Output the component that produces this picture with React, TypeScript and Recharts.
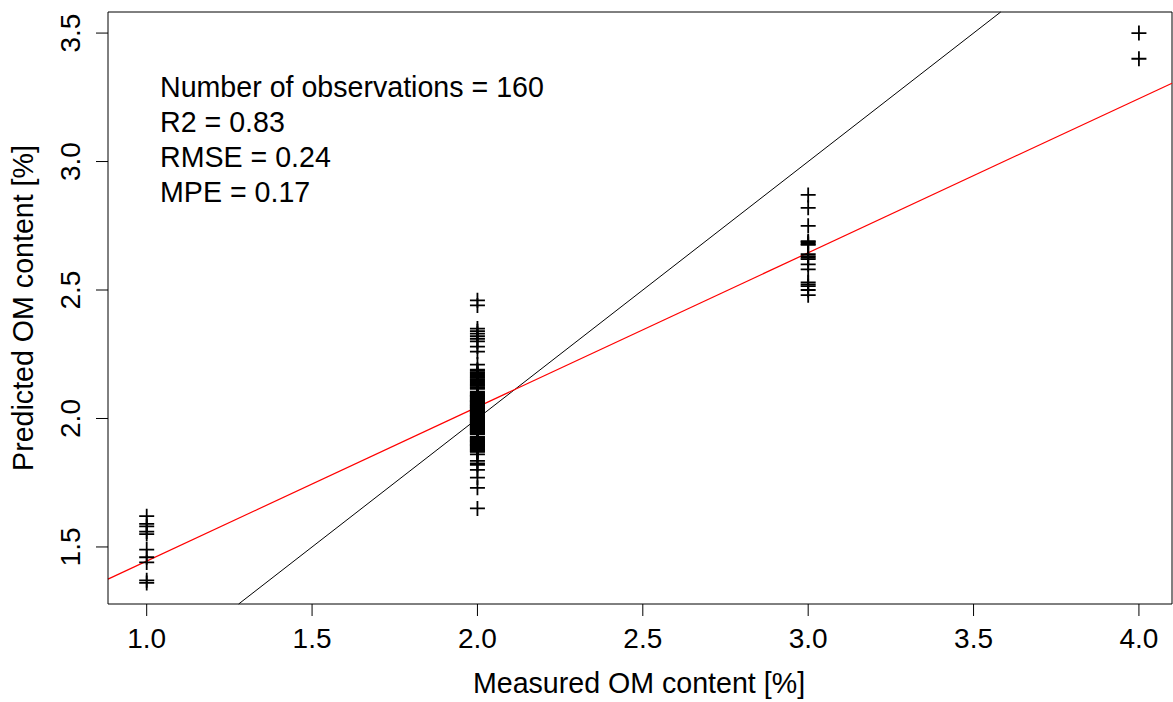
import React from 'react'
import {
  ScatterChart,
  Scatter,
  XAxis,
  YAxis,
  ReferenceLine,
  Customized,
} from 'recharts'

// measured OM classes on the x axis
const measuredLevels = [1, 2, 3, 4]

// predicted OM content for each measured class
const predictedAt1 = [1.62, 1.59, 1.58, 1.56, 1.55, 1.49, 1.46, 1.44, 1.37, 1.36]

const predictedAt2 = [
  2.46, 2.44,
  2.35, 2.34, 2.33, 2.32, 2.31, 2.30,
  2.28, 2.26, 2.21,
  2.19, 2.186, 2.18, 2.176, 2.171, 2.167, 2.162, 2.158, 2.153, 2.149, 2.144, 2.14, 2.135, 2.131, 2.127, 2.122, 2.118, 2.115,
  2.104, 2.101, 2.097, 2.094, 2.091, 2.088, 2.085, 2.082, 2.079, 2.076, 2.073, 2.07, 2.068,
  2.065, 2.062, 2.06, 2.057, 2.054, 2.051, 2.049, 2.046, 2.043, 2.04, 2.038, 2.035, 2.032,
  2.03, 2.027, 2.024, 2.021, 2.019, 2.016, 2.013, 2.01, 2.008, 2.005, 2.002, 2.0, 1.997,
  1.994, 1.991, 1.989, 1.986, 1.983, 1.98, 1.978, 1.975, 1.972, 1.97, 1.967, 1.964, 1.962,
  1.959, 1.956, 1.953, 1.951, 1.948, 1.946, 1.943, 1.941, 1.939, 1.969, 2.009, 2.052,
  2.088, 2.025, 1.985, 1.958, 2.067, 1.995, 2.044,
  1.929, 1.926, 1.923, 1.92, 1.917, 1.914, 1.911, 1.908, 1.905, 1.902,
  1.899, 1.896, 1.893, 1.89, 1.887, 1.884, 1.881, 1.878, 1.875, 1.872, 1.87, 1.912, 1.897,
  1.86, 1.835, 1.825, 1.82, 1.80, 1.77, 1.73, 1.65,
]

const predictedAt3 = [
  2.87, 2.82, 2.75, 2.69, 2.686, 2.68, 2.676, 2.64, 2.632,
  2.626, 2.62, 2.60, 2.58, 2.53, 2.522, 2.515, 2.50, 2.48,
]

const predictedAt4 = [3.5, 3.4]

const xTicks = [1.0, 1.5, 2.0, 2.5, 3.0, 3.5, 4.0]
const yTicks = [1.5, 2.0, 2.5, 3.0, 3.5]

const xDomain = [0.883, 4.1]
const yDomain = [1.278, 3.582]

// fitted regression line (red)
const fitIntercept = 0.845
const fitSlope = 0.6

const statsLines = [
  'Number of observations = 160',
  'R2 = 0.83',
  'RMSE = 0.24',
  'MPE = 0.17',
]

const FONT = '"Liberation Sans", Arial, Helvetica, sans-serif'

const groups = [predictedAt1, predictedAt2, predictedAt3, predictedAt4]
const points = groups.flatMap((vals, i) =>
  vals.map((y) => ({ x: measuredLevels[i], y }))
)

const PlusMark = (props: any) => {
  const { cx, cy } = props
  if (cx == null || cy == null) return null
  const s = 7.5
  return (
    <path
      d={`M${cx - s},${cy}H${cx + s}M${cx},${cy - s}V${cy + s}`}
      stroke="#000"
      strokeWidth={1.8}
      fill="none"
    />
  )
}

const YTick = (props: any) => {
  const { x, y, payload } = props
  return (
    <text
      transform={`translate(${x},${y}) rotate(-90)`}
      textAnchor="middle"
      fontSize={28}
      fontFamily={FONT}
      fill="#000"
    >
      {Number(payload.value).toFixed(1)}
    </text>
  )
}

const Annotations = () => (
  <g fontFamily={FONT} fontSize={28.6} fill="#000">
    {statsLines.map((t, i) => (
      <text key={t} x={160} y={97 + i * 35}>
        {t}
      </text>
    ))}
    <text x={639} y={693} textAnchor="middle">
      Measured OM content [%]
    </text>
    <text transform="translate(33,308) rotate(-90)" textAnchor="middle">
      Predicted OM content [%]
    </text>
  </g>
)

export default function App() {
  const fitStart = { x: xDomain[0], y: fitIntercept + fitSlope * xDomain[0] }
  const fitEnd = { x: xDomain[1], y: fitIntercept + fitSlope * xDomain[1] }

  return (
    <div style={{ position: 'absolute', left: 0, top: 0, background: '#fff' }}>
      <ScatterChart
        width={1173}
        height={702}
        margin={{ top: 12, right: 1, bottom: 0, left: 8 }}
      >
        <XAxis
          type="number"
          dataKey="x"
          domain={xDomain}
          allowDataOverflow
          ticks={xTicks}
          tickFormatter={(v: number) => v.toFixed(1)}
          height={98}
          tickSize={12}
          tickMargin={12}
          axisLine={{ stroke: '#000' }}
          tickLine={{ stroke: '#000' }}
          tick={{ fontSize: 28, fill: '#000', fontFamily: FONT }}
          interval={0}
        />
        <YAxis
          type="number"
          dataKey="y"
          domain={yDomain}
          allowDataOverflow
          ticks={yTicks}
          width={100}
          tickSize={12}
          tickMargin={16}
          axisLine={{ stroke: '#000' }}
          tickLine={{ stroke: '#000' }}
          tick={<YTick />}
          interval={0}
        />
        {/* top and right edges of the box */}
        <ReferenceLine y={yDomain[1]} stroke="#000" />
        <ReferenceLine x={xDomain[1]} stroke="#000" />
        {/* 1:1 line */}
        <ReferenceLine
          segment={[
            { x: yDomain[0], y: yDomain[0] },
            { x: yDomain[1], y: yDomain[1] },
          ]}
          stroke="#000"
          strokeWidth={1}
        />
        {/* regression line */}
        <ReferenceLine segment={[fitStart, fitEnd]} stroke="#ff0000" strokeWidth={1.2} />
        <Scatter data={points} shape={<PlusMark />} isAnimationActive={false} />
        <Customized component={Annotations} />
      </ScatterChart>
    </div>
  )
}
